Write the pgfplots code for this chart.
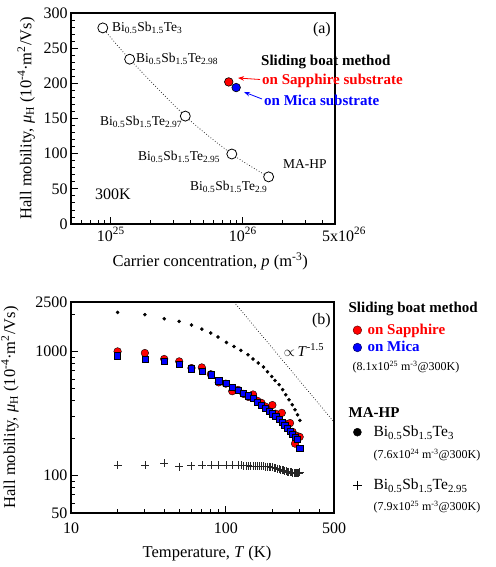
\documentclass[border=0pt]{standalone}
\usepackage{fontspec}
\setmainfont{Liberation Serif}
\usepackage{pgfplots}
\pgfplotsset{compat=1.18}
\usetikzlibrary{arrows.meta}
\newcommand\BST[1]{Bi\textsubscript{0.5}Sb\textsubscript{1.5}Te\textsubscript{#1}}
\newcommand\fs[1]{\fontsize{#1}{#1}\selectfont}
\newcommand\lrow[3]{\rule[-#2pt]{0pt}{\dimexpr#1pt+#2pt\relax}#3}
\pgfplotsset{
  mystyle/.style={scale only axis, tick pos=left, tick align=inside,
    major tick length=7pt, minor tick length=4pt,
    axis line style={line width=1.1pt},
    every tick/.append style={black, line width=0.8pt},
    tick label style={font=\fs{16}}, label style={font=\fs{16.5}}},
  legmark/.style={legend image code/.code={\draw[##1] plot coordinates {(5pt,0pt)}; \path (0pt,0pt) (10pt,0pt);}}
}

\pgfplotstableread{
T mu
20 2061
30 1976
40 1833
50 1745
60 1632
70 1513
80 1406
89 1306
101 1182
113 1097
125 1019
139 941
150 869
162 807
175 749
186 687
198 629
208 584
221 540
233 492
244 448
256 408
269 372
280 339
291 309
301 278
}\blackdots

\pgfplotstableread{
T mu
20 1000
30 971
40 869
50 831
60 735
70 743
80 655
90 563
100 550
110 478
120 490
130 455
140 430
150 450
160 400
170 385
180 360
190 345
200 370
210 315
220 300
230 320
240 262
250 250
260 265
270 225
280 181
290 208
300 205
}\sapphire

\pgfplotstableread{
T mu
20 924
30 860
40 831
50 791
60 726
70 691
80 649
90 580
100 557
110 512
120 484
130 462
140 440
150 420
160 390
170 370
180 350
190 330
200 315
210 300
220 285
230 270
240 255
250 242
260 228
270 217
280 205
290 196
300 167
}\mica

\pgfplotstableread{
T mu
20 122
30 121
40 126
50 118
60 120
70 121
80 121
90 121
100 121
110 122
120 122
125 121
130 120
135 120
140 120
145 119
150 119
155 119
160 119
165 119
170 119
175 119
180 118
185 118
190 118
195 117
200 117
205 116
210 115
215 114
220 113
225 112
230 111
235 110
240 109
245 108
250 107
255 107
260 106
265 106
270 105
275 105
280 105
285 105
290 105
295 105
300 106
}\plusdata

\begin{document}
\begin{tikzpicture}
\path[use as bounding box] (0,0) rectangle (495pt,567pt);

% ---------------- (a) ----------------
\begin{axis}[mystyle, at={(71pt,554pt)}, anchor=north west,
  width=264pt, height=211pt,
  xmode=log, xmin=5e24, xmax=5e26, ymin=0, ymax=300,
  xtick={1e25,1e26,5e26},
  xticklabels={10\textsuperscript{25},10\textsuperscript{26},\hspace*{18pt}5x10\textsuperscript{26}},
  minor xtick={6e24,7e24,8e24,9e24,2e25,3e25,4e25,5e25,6e25,7e25,8e25,9e25,2e26,3e26,4e26},
  ytick={0,50,100,150,200,250,300},
  yticklabels={0,50,100,150,200,250,300},
  minor ytick={10,20,30,40,60,70,80,90,110,120,130,140,160,170,180,190,210,220,230,240,260,270,280,290},
  xlabel={Carrier concentration, \textit{p} (m\textsuperscript{-3})},
  ylabel={Hall mobility, \textit{μ}\textsubscript{H} (10\textsuperscript{-4}·m\textsuperscript{2}/Vs)},
  xlabel style={at={(axis description cs:0.527,-0.179)}, anchor=center},
  ylabel style={at={(axis description cs:-0.17,0.5)}, anchor=center},
  clip=false]
\addplot[dotted, smooth, line width=0.8pt, black!80] coordinates
  {(8.7e24,278.8) (1.39e25,234.3) (3.67e25,153.4) (8.26e25,99.5) (1.57e26,67)};
\addplot[only marks, mark=*, mark size=5pt, mark options={fill=white, draw=black, line width=0.8pt}] coordinates
  {(8.7e24,278.8) (1.39e25,234.3) (3.67e25,153.4) (8.26e25,99.5) (1.57e26,67)};
\addplot[only marks, mark=*, mark size=4.3pt, mark options={fill=red, draw=black, line width=0.6pt}] coordinates {(7.83e25,202)};
\addplot[only marks, mark=*, mark size=4.3pt, mark options={fill=blue, draw=black, line width=0.6pt}] coordinates {(8.91e25,194)};
\end{axis}

% ---------------- (b) ----------------
\begin{axis}[mystyle, at={(71pt,265pt)}, anchor=north west,
  width=263pt, height=211pt,
  xmode=log, ymode=log, xmin=10, xmax=500, ymin=50, ymax=2500,
  xtick={10,100,500}, xticklabels={10,100,500},
  xticklabel style={yshift=-6pt},
  ytick={50,100,1000,2500}, yticklabels={50,100,1000,2500},
  minor xtick={20,30,40,50,60,70,80,90,200,300,400},
  minor ytick={60,70,80,90,200,300,400,500,600,700,800,900,2000},
  xlabel={Temperature, \textit{T} (K)},
  ylabel={Hall mobility, \textit{μ}\textsubscript{H} (10\textsuperscript{-4}·m\textsuperscript{2}/Vs)},
  xlabel style={at={(axis description cs:0.517,-0.19)}, anchor=center},
  ylabel style={at={(axis description cs:-0.232,0.5)}, anchor=center},
  legend cell align=left,
  legend style={at={(axis description cs:1.0684,1.0313)}, anchor=north west,
    draw=none, fill=none, inner sep=0pt, column sep=5pt, row sep=0pt,
    nodes={inner sep=0pt, text depth=}, cells={anchor=west}}]
\addplot[dotted, line width=0.7pt, forget plot] coordinates {(113,2500) (500,270)};
\addplot[only marks, mark=*, mark size=1.6pt, black, forget plot] table[x=T, y=mu] {\blackdots};
\addplot[only marks, mark=*, mark size=3.8pt, mark options={fill=red, draw=none}, forget plot] table[x=T, y=mu] {\sapphire};
\addplot[only marks, mark=square*, mark size=3.1pt, mark options={fill=blue, draw=none}, forget plot] table[x=T, y=mu] {\mica};
\addplot[only marks, mark=+, mark size=4pt, black!85, mark options={line width=0.6pt}, forget plot] table[x=T, y=mu] {\plusdata};

\addlegendimage{empty legend}
\addlegendentry{\lrow{17.4}{8.4}{\fs{15}\bfseries\hspace*{-19pt}Sliding boat method}}
\addlegendimage{legmark, only marks, mark=*, mark size=4.3pt, mark options={fill=red, draw=red!40!black, line width=0.5pt}}
\addlegendentry{\lrow{13.3}{4.3}{\fs{15}\bfseries\color{red}on Sapphire}}
\addlegendimage{legmark, only marks, mark=*, mark size=4.3pt, mark options={fill=blue, draw=blue!40!black, line width=0.5pt}}
\addlegendentry{\lrow{13}{4}{\fs{15}\bfseries\color{blue}on Mica}}
\addlegendimage{empty legend}
\addlegendentry{\lrow{14.5}{7.3}{\fs{12}\hspace*{-15pt}(8.1x10\textsuperscript{25} m\textsuperscript{-3}@300K)}}
\addlegendimage{empty legend}
\addlegendentry{\lrow{13.35}{13.35}{}}
\addlegendimage{empty legend}
\addlegendentry{\lrow{13.5}{4.5}{\fs{15}\bfseries\hspace*{-19pt}MA-HP}}
\addlegendimage{legmark, only marks, mark=*, mark size=4pt, mark options={fill=black, draw=black}}
\addlegendentry{\lrow{14.35}{5.05}{\fs{15.5}\hspace*{6pt}\BST{3}}}
\addlegendimage{empty legend}
\addlegendentry{\lrow{16.9}{9.7}{\fs{12}\hspace*{6pt}(7.6x10\textsuperscript{24} m\textsuperscript{-3}@300K)}}
\addlegendimage{empty legend}
\addlegendentry{\lrow{2.5}{2.5}{}}
\addlegendimage{legmark, only marks, mark=+, mark size=4.5pt, mark options={draw=black, line width=0.8pt}}
\addlegendentry{\lrow{16.35}{7.05}{\fs{15.5}\hspace*{6pt}\BST{2.95}}}
\addlegendimage{empty legend}
\addlegendentry{\lrow{13.6}{6.4}{\fs{12}\hspace*{6pt}(7.9x10\textsuperscript{25} m\textsuperscript{-3}@300K)}}
\end{axis}

% ---------------- annotations (pixel frame) ----------------
\begin{scope}[x=1pt, y=-1pt, shift={(0,567pt)}, every node/.style={inner sep=0pt}]
\node[anchor=west, font=\fs{13.5}] at (112,28) {\BST{3}};
\node[anchor=west, font=\fs{13.5}] at (136,59) {\BST{2.98}};
\node[anchor=west, font=\fs{13.5}] at (100,122) {\BST{2.97}};
\node[anchor=west, font=\fs{13.5}] at (138,157) {\BST{2.95}};
\node[anchor=west, font=\fs{13.5}] at (190,187) {\BST{2.9}};
\node[anchor=west, font=\fs{13.5}] at (283,164) {MA-HP};
\node[anchor=west, font=\fs{16}] at (95,194) {300K};
\node[anchor=east, font=\fs{16}] at (331,30) {(a)};
\node[anchor=west, font=\fs{15}\bfseries] at (261,62) {Sliding boat method};
\node[anchor=west, font=\fs{15}\bfseries, text=red] at (262,81) {on Sapphire substrate};
\node[anchor=west, font=\fs{15}\bfseries, text=blue] at (264,100) {on Mica substrate};
\draw[red, line width=0.8pt, -{Stealth[length=6pt, width=4.5pt]}] (260,79.5) -- (238,78);
\draw[blue, line width=0.8pt, -{Stealth[length=6pt, width=4.5pt]}] (262,99) -- (244,92);
\node[anchor=east, font=\fs{16}] at (331,321) {(b)};
\node[font=\fs{15}] at (304,350) {$\propto$\,\textit{T}\textsuperscript{-1.5}};
\end{scope}
\end{tikzpicture}
\end{document}
